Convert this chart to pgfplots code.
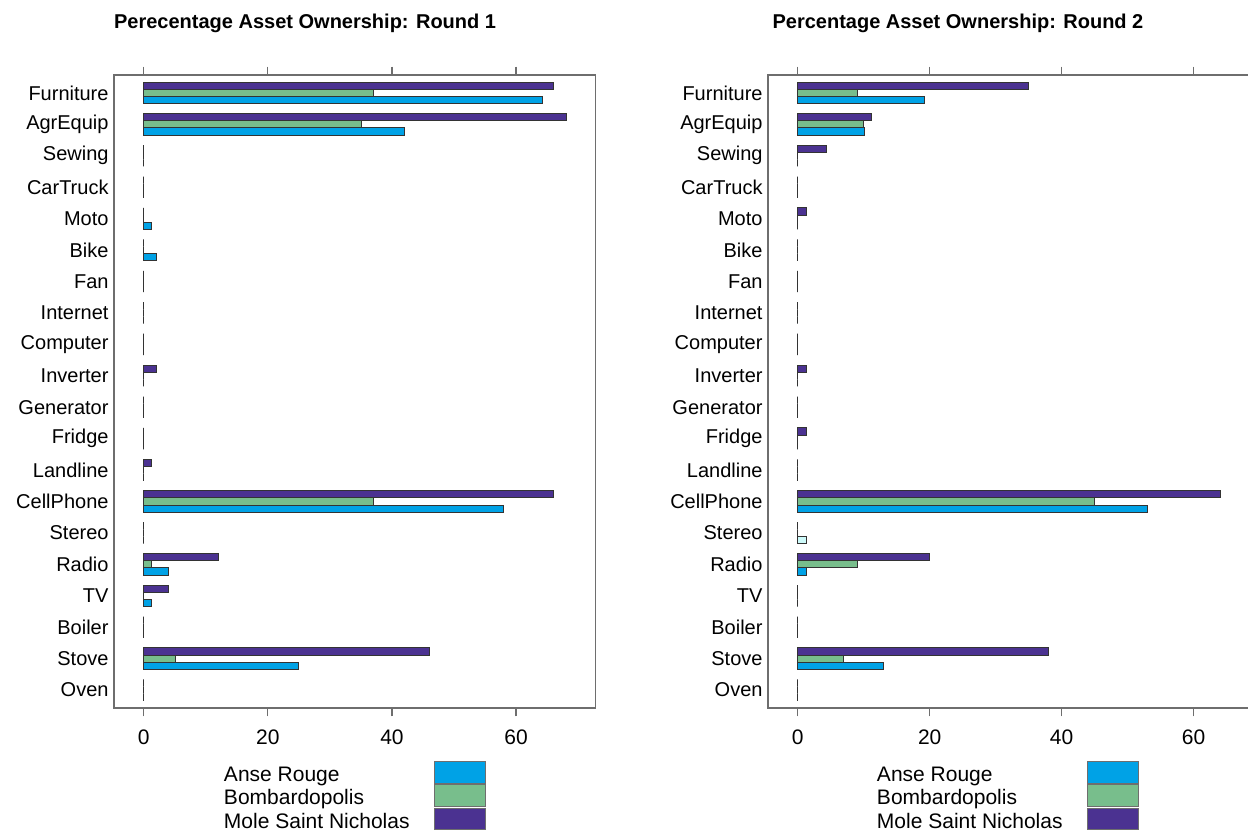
\documentclass[border=0pt]{standalone}
\usepackage{fontspec}
\setmainfont{Liberation Sans}
\usepackage{pgfplots}
\pgfplotsset{compat=1.18}

\definecolor{anse}{RGB}{0,162,230}
\definecolor{bomb}{RGB}{120,190,140}
\definecolor{mole}{RGB}{75,50,145}
\definecolor{stereo}{RGB}{205,250,250}
\definecolor{frame}{RGB}{110,110,110}

% one panel of the lattice-style bar chart; 1px of the reference = 0.5pt
\pgfplotsset{
  assetpanel/.style={
    xbar, scale only axis, anchor=south west,
    width=240.7pt, height=316.5pt,
    ymin=-0.57, ymax=19.57,
    ytick={0,...,19},
    yticklabels={Oven,Stove,Boiler,TV,Radio,Stereo,CellPhone,Landline,Fridge,Generator,
      Inverter,Computer,Internet,Fan,Bike,Moto,CarTruck,Sewing,AgrEquip,Furniture},
    y tick style={draw=none},
    yticklabel style={font=\fontsize{10}{12}\selectfont, xshift=5pt},
    xtick={0,20,40,60},
    xtick pos=both, xticklabel pos=lower, tick align=outside,
    major tick length=4.2pt,
    x tick style={frame, line width=0.6pt},
    xticklabel style={font=\fontsize{10.5}{12}\selectfont, yshift=-3pt},
    /pgf/number format/assume math mode=true,
    axis line style={frame, line width=0.75pt},
    bar width=0.227,
    every axis plot/.append style={draw=black!80, line width=0.5pt},
    title style={font=\bfseries\fontsize{10}{12}\selectfont, anchor=center},
    legend plot pos=right,
    legend cell align=left,
    legend style={draw=none, fill=none, inner sep=0pt, outer sep=0pt,
      row sep=0pt, column sep=12pt, anchor=north west,
      font=\fontsize{10.5}{12}\selectfont, nodes={inner sep=0pt}},
    every axis plot post/.append style={
      legend image code/.code={\draw[##1, draw=frame, line width=0.6pt] (0pt,-3.9pt) rectangle (25.5pt,6.9pt);}},
  }
}

\begin{document}
\begin{tikzpicture}
\useasboundingbox (0,0) rectangle (624pt,416pt);

\begin{axis}[assetpanel,
  at={(57pt,62pt)},
  xmin=-4.78, xmax=72.78,
  title={Perecentage Asset Ownership: Round 1},
  title style={at={(0.397,1.062)}},
  legend style={at={(0.2285,-0.0837)}},
]
\addplot[fill=anse, bar shift=-0.227] coordinates {
  (0,0) (25,1) (0,2) (1.2,3) (4,4) (0,5) (58,6) (0,7) (0,8) (0,9)
  (0,10) (0,11) (0,12) (0,13) (2.1,14) (1.2,15) (0,16) (0,17) (42,18) (64.2,19)
};
\addlegendentry{Anse Rouge}
\addplot[fill=bomb, bar shift=0] coordinates {
  (0,0) (5.1,1) (0,2) (0,3) (1.2,4) (0,5) (37,6) (0,7) (0,8) (0,9)
  (0,10) (0,11) (0,12) (0,13) (0,14) (0,15) (0,16) (0,17) (35.1,18) (37,19)
};
\addlegendentry{Bombardopolis}
\addplot[fill=mole, bar shift=0.227] coordinates {
  (0,0) (46,1) (0,2) (4,3) (12.1,4) (0,5) (66.1,6) (1.2,7) (0,8) (0,9)
  (2.1,10) (0,11) (0,12) (0,13) (0,14) (0,15) (0,16) (0,17) (68.2,18) (66,19)
};
\addlegendentry{Mole Saint Nicholas}
\end{axis}

\begin{axis}[assetpanel,
  at={(384pt,62pt)},
  xmin=-4.5, xmax=68.45,
  title={Percentage Asset Ownership: Round 2},
  title style={at={(0.3946,1.062)}},
  legend style={at={(0.2264,-0.0837)}},
]
\addplot[fill=anse, bar shift=-0.227] coordinates {
  (0,0) (13,1) (0,2) (0,3) (1.27,4) (53,6) (0,7) (0,8) (0,9)
  (0,10) (0,11) (0,12) (0,13) (0,14) (0,15) (0,16) (0,17) (10.1,18) (19.2,19)
};
\addlegendentry{Anse Rouge}
\addplot[fill=bomb, bar shift=0] coordinates {
  (0,0) (7,1) (0,2) (0,3) (9.06,4) (0,5) (44.9,6) (0,7) (0,8) (0,9)
  (0,10) (0,11) (0,12) (0,13) (0,14) (0,15) (0,16) (0,17) (9.9,18) (9.06,19)
};
\addlegendentry{Bombardopolis}
\addplot[fill=mole, bar shift=0.227] coordinates {
  (0,0) (38,1) (0,2) (0,3) (20,4) (0,5) (64,6) (0,7) (1.27,8) (0,9)
  (1.27,10) (0,11) (0,12) (0,13) (0,14) (1.27,15) (0,16) (4.3,17) (11.2,18) (35,19)
};
\addlegendentry{Mole Saint Nicholas}
% the Stereo bar of Anse Rouge is drawn in a pale fill in the reference
\addplot[fill=stereo, bar shift=-0.227, forget plot] coordinates {(1.27,5)};
\end{axis}
\end{tikzpicture}
\end{document}
